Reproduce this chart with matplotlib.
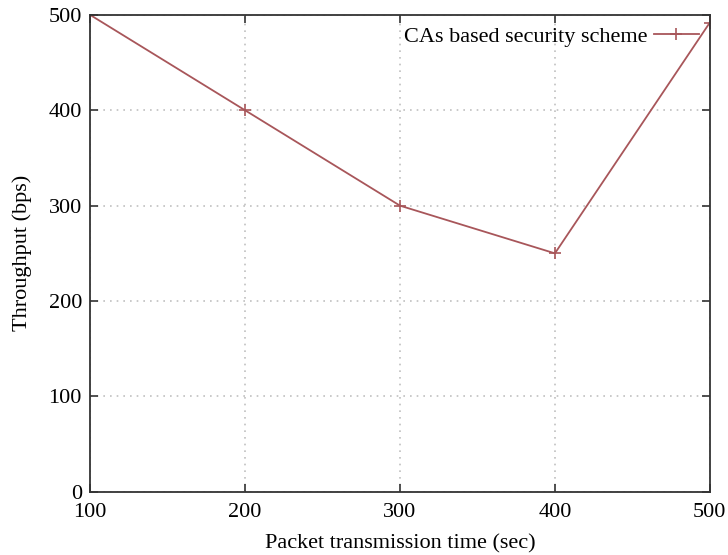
import matplotlib.pyplot as plt

# Data
times = [100, 200, 300, 400, 500]
throughput = [500, 400, 300, 250, 492]
series_label = 'CAs based security scheme'

plt.rcParams['font.family'] = ['Liberation Serif', 'DejaVu Serif']

fig = plt.figure(figsize=(7.28, 5.55), dpi=100)
ax = fig.add_axes([0.124, 0.114, 0.851, 0.859])

ax.plot(times, throughput, color='#a8565a', lw=1.3, marker='+', ms=8, mew=1.2,
        label=series_label)

ax.set_xlim(100, 500)
ax.set_ylim(0, 500)
ax.set_xticks([100, 200, 300, 400, 500])
ax.set_yticks([0, 100, 200, 300, 400, 500])
ax.grid(True, color='#c0c0c0', linestyle=(0, (1, 3)), lw=1.2)
ax.tick_params(direction='in', top=True, right=True, length=6, width=1.2,
               labelsize=16, color='#333333')
ax.tick_params(axis='x', pad=8)
ax.tick_params(axis='y', pad=6)
for s in ax.spines.values():
    s.set_linewidth(1.3)
    s.set_color('#333333')

ax.set_xlabel('Packet transmission time (sec)', fontsize=16, labelpad=9)
ax.set_ylabel('Throughput (bps)', fontsize=16, labelpad=12)

leg = ax.legend(loc='upper right', frameon=False, fontsize=16, markerfirst=False,
                handlelength=2.0, borderaxespad=0.1, handletextpad=0.3)

fig.savefig('out.png', dpi=100)
